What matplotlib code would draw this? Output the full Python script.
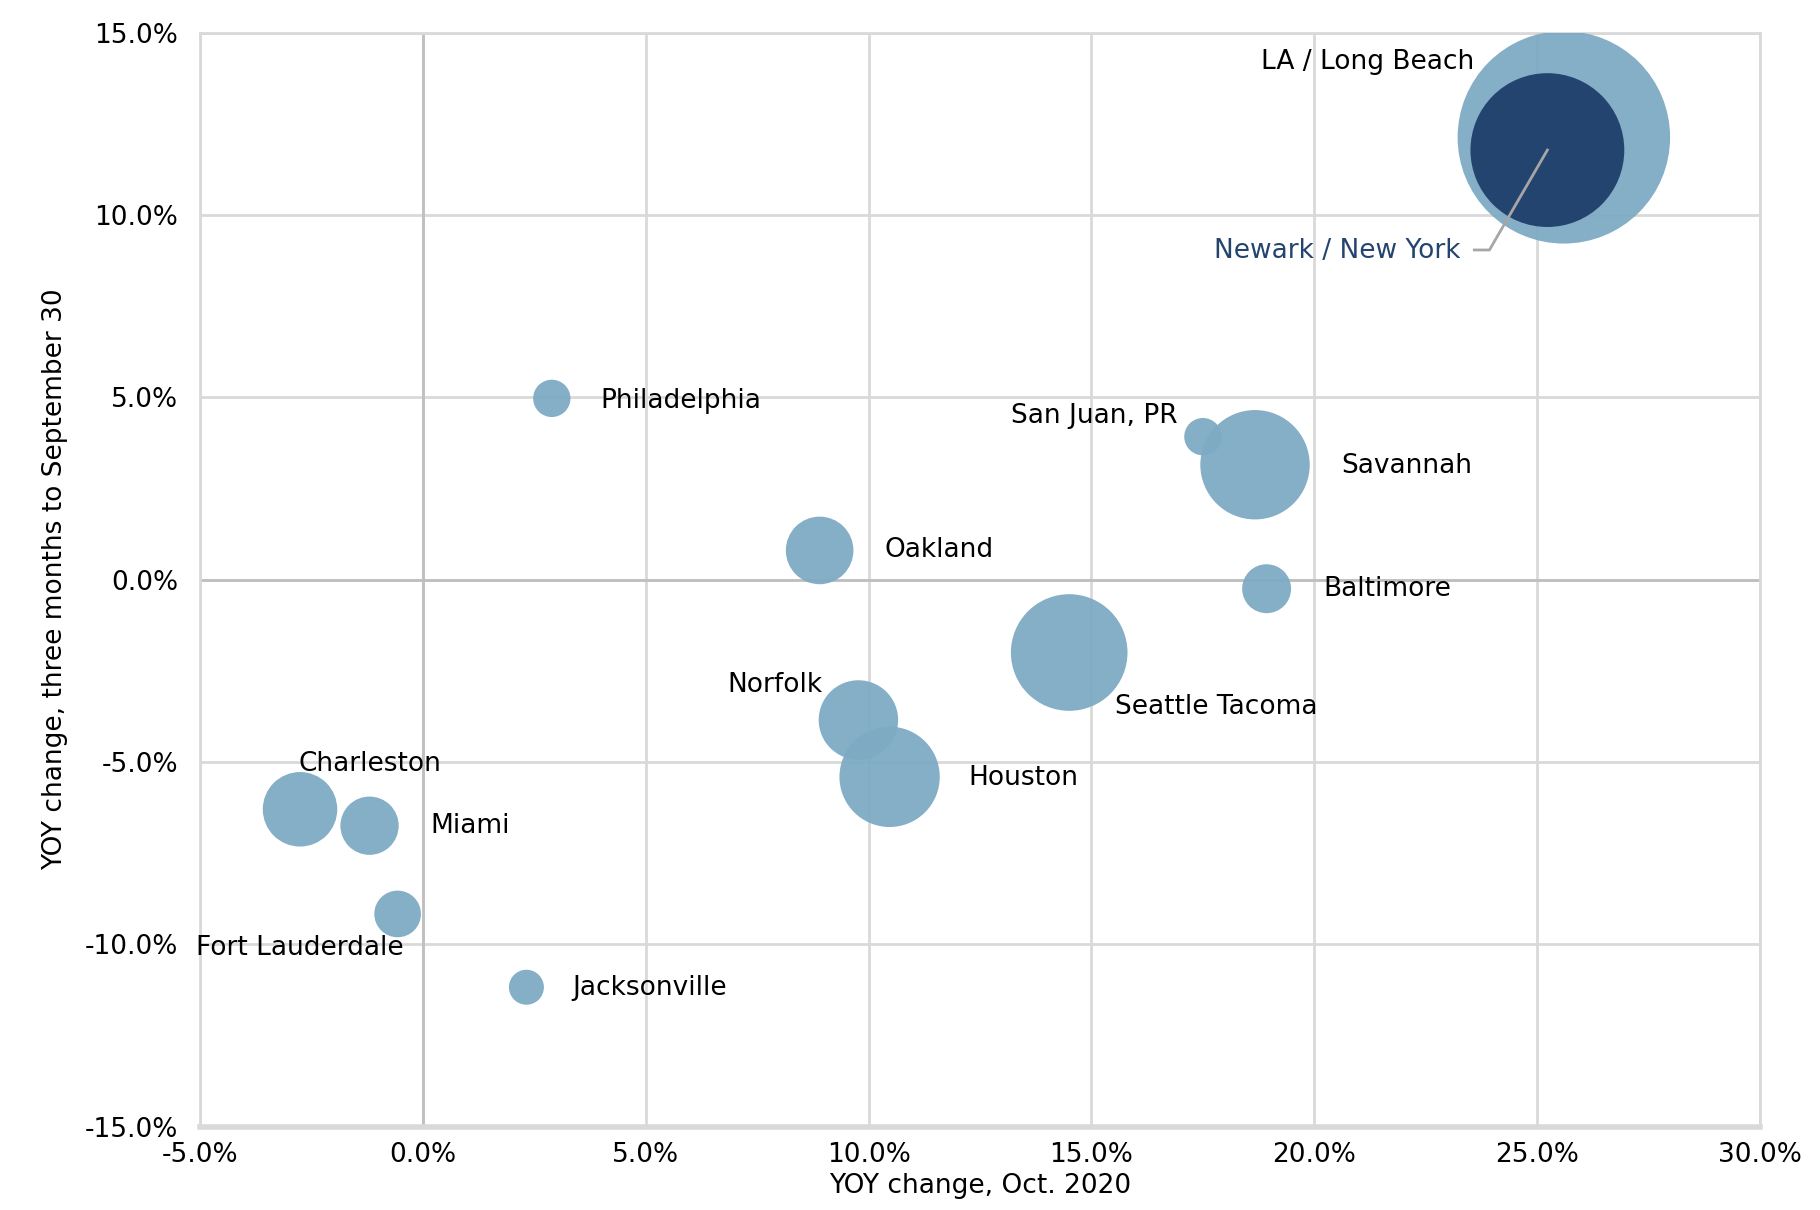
import matplotlib.pyplot as plt
import numpy as np
from matplotlib.ticker import FuncFormatter, MultipleLocator

plt.rcParams['font.family'] = ['DejaVu Sans']

ports = ['LA / Long Beach', 'Newark / New York', 'Philadelphia', 'San Juan, PR', 'Savannah',
         'Oakland', 'Baltimore', 'Seattle Tacoma', 'Norfolk', 'Houston', 'Charleston',
         'Miami', 'Fort Lauderdale', 'Jacksonville']
yoy_oct = [25.6, 25.23, 2.89, 17.5, 18.67, 8.9, 18.93, 14.5, 9.77, 10.47, -2.76, -1.2, -0.57, 2.32]
yoy_3m = [12.13, 11.78, 4.97, 3.92, 3.15, 0.8, -0.25, -2.0, -3.85, -5.41, -6.3, -6.75, -9.17, -11.18]
volume = [8300, 4350, 256, 256, 2200, 840, 440, 2500, 1160, 1850, 1020, 625, 400, 225]  # relative size

# label positions (data coords) and alignment
lab_x = [23.59, 23.28, 3.98, 16.93, 20.6, 10.36, 20.2, 15.52, 8.96, 12.24, -2.79, 0.16, -5.1, 3.36]
lab_y = [14.2, 9.01, 4.9, 4.49, 3.12, 0.8, -0.25, -3.5, -2.9, -5.45, -5.06, -6.75, -10.1, -11.2]
lab_ha = ['right', 'right', 'left', 'right', 'left', 'left', 'left', 'left', 'right', 'left',
          'left', 'left', 'left', 'left']

light = '#7EAAC4'
dark = '#23446F'

fig = plt.figure(figsize=(18.2, 12.1), dpi=100)
ax = fig.add_axes([0.110, 0.069, 0.857, 0.904])

cols = [dark if p == 'Newark / New York' else light for p in ports]
sizes = np.array(volume) * 2.82
# draw largest first so small ones stay on top
order = np.argsort(sizes)[::-1]
for i in order:
    ax.scatter(yoy_oct[i], yoy_3m[i], s=sizes[i], color=cols[i], alpha=0.95 if i != 1 else 1,
               edgecolors='none', zorder=3)

for i, p in enumerate(ports):
    c = dark if p == 'Newark / New York' else 'black'
    ax.text(lab_x[i], lab_y[i], p, ha=lab_ha[i], va='center', fontsize=19, color=c, zorder=5)

# leader line for Newark
ax.plot([23.59, 23.93, yoy_oct[1]], [9.04, 9.04, yoy_3m[1]], color='#A6A6A6', lw=2, zorder=4)

ax.set_xlim(-5, 30)
ax.set_ylim(-15, 15)
ax.xaxis.set_major_locator(MultipleLocator(5))
ax.yaxis.set_major_locator(MultipleLocator(5))
fmt = FuncFormatter(lambda v, pos: '{:.1f}%'.format(v))
ax.xaxis.set_major_formatter(fmt)
ax.yaxis.set_major_formatter(fmt)
ax.tick_params(length=0, labelsize=19)
ax.tick_params(axis='y', pad=16)
ax.tick_params(axis='x', pad=11)

ax.grid(True, color='#D9D9D9', lw=2, zorder=0)
ax.axhline(0, color='#BFBFBF', lw=2, zorder=1)
ax.axvline(0, color='#BFBFBF', lw=2, zorder=1)
for s in ['left', 'right', 'top']:
    ax.spines[s].set_color('#D9D9D9')
    ax.spines[s].set_linewidth(2)
ax.spines['bottom'].set_color('#D9D9D9')
ax.spines['bottom'].set_linewidth(4)
ax.set_axisbelow(True)

ax.set_xlabel('YOY change, Oct. 2020', fontsize=19, labelpad=4)
ax.set_ylabel('YOY change, three months to September 30', fontsize=19, labelpad=12)

plt.savefig('out.png')
